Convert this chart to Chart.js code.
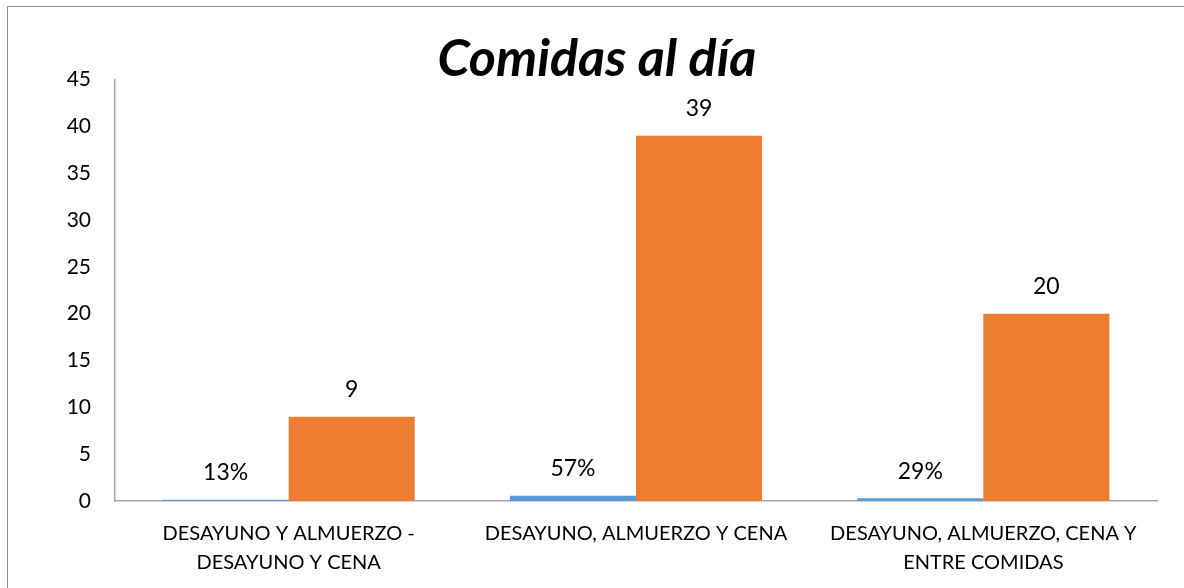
<!DOCTYPE html>
<html>
<head>
<meta charset="utf-8">
<script src="https://cdn.jsdelivr.net/npm/chart.js@4/dist/chart.umd.min.js"></script>
<style>
  body { margin: 0; background: #fff; }
  #wrap { position: relative; width: 1184px; height: 588px; overflow: hidden; }
  #frame { position: absolute; left: 7px; top: 6px; width: 1300px; height: 700px;
           border-top: 1px solid #8c8c8c; border-left: 1px solid #8c8c8c; }
  canvas { position: absolute; left: 0; top: 0; }
</style>
</head>
<body>
<div id="wrap">
  <div id="frame"></div>
  <canvas id="chart" width="1184" height="588"></canvas>
</div>
<script>
const categories = [
  ['DESAYUNO Y ALMUERZO -', 'DESAYUNO Y CENA'],
  'DESAYUNO, ALMUERZO Y CENA',
  ['DESAYUNO, ALMUERZO, CENA Y', 'ENTRE COMIDAS']
];
const percentValues = [0.13, 0.57, 0.29];
const countValues = [9, 39, 20];
const yTicks = [0, 5, 10, 15, 20, 25, 30, 35, 40, 45];

const FONT = 'Lato, Carlito, Calibri, sans-serif';

// etiquetas encima de cada barra
const barLabels = {
  id: 'barLabels',
  afterDatasetsDraw(chart) {
    const ctx = chart.ctx;
    ctx.save();
    ctx.font = '23px ' + FONT;
    ctx.fillStyle = '#000';
    ctx.textAlign = 'center';
    ctx.textBaseline = 'middle';
    chart.data.datasets.forEach((ds, i) => {
      chart.getDatasetMeta(i).data.forEach((bar, j) => {
        const v = ds.data[j];
        const txt = ds.isPercent ? Math.round(v * 100) + '%' : String(v);
        ctx.fillText(txt, bar.x, bar.y - 27);
      });
    });
    ctx.restore();
  }
};

new Chart(document.getElementById('chart'), {
  type: 'bar',
  data: {
    labels: categories,
    datasets: [{
      label: 'Porcentaje',
      data: percentValues,
      isPercent: true,
      backgroundColor: '#5B9BD5',
      categoryPercentage: 0.726,
      barPercentage: 1
    }, {
      label: 'Cantidad',
      data: countValues,
      backgroundColor: '#ED7D31',
      categoryPercentage: 0.726,
      barPercentage: 1
    }]
  },
  options: {
    responsive: false,
    animation: false,
    layout: { padding: { left: 37, right: 27, top: 0, bottom: 0 } },
    plugins: {
      legend: { display: false },
      tooltip: { enabled: false },
      title: {
        display: true,
        text: 'Comidas al día',
        color: '#000',
        font: { family: FONT, size: 52, weight: 'bold', style: 'italic', lineHeight: 0.8 },
        padding: { top: 38, bottom: 0 }
      }
    },
    scales: {
      x: {
        grid: { display: false, drawTicks: false },
        border: { color: '#a6a6a6', width: 1.5 },
        ticks: {
          color: '#000',
          padding: 18,
          maxRotation: 0,
          autoSkip: false,
          font: { family: FONT, size: 20, lineHeight: 1.45 }
        },
        afterFit: s => { s.height = 87; }
      },
      y: {
        min: 0,
        max: 45,
        afterBuildTicks: s => { s.ticks = yTicks.map(v => ({ value: v })); },
        grid: { display: false, drawTicks: false },
        border: { color: '#a6a6a6', width: 1.5 },
        ticks: {
          color: '#000',
          padding: 24,
          font: { family: FONT, size: 21 }
        },
        afterFit: s => { s.width = 78; }
      }
    }
  },
  plugins: [barLabels]
});
</script>
</body>
</html>
